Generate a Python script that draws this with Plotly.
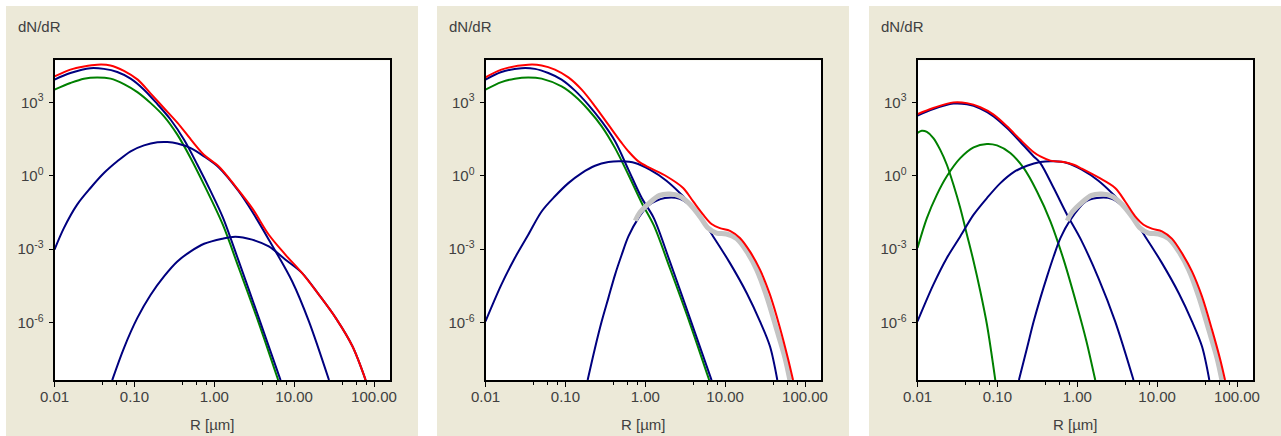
import plotly.graph_objects as go

# ---------------- data (R in µm, dN/dR) ----------------
# Panel 1
p1_red_R = [0.01, 0.0158, 0.0234, 0.0343, 0.0501, 0.0741, 0.110, 0.158, 0.234, 0.347, 0.513, 0.741, 1.14, 1.84, 2.98, 4.82, 7.80, 12.6, 20.4, 33.1, 53.7, 78.5]
p1_red_y = [1.15e4, 2.19e4, 2.95e4, 3.47e4, 3.24e4, 1.95e4, 8.5e3, 2.4e3, 589, 145, 29.5, 7.24, 2.40, 0.372, 0.0479, 3.89e-3, 5.89e-4, 1.05e-4, 1.38e-5, 1.55e-6, 1.07e-7, 4.47e-9]
p1_b1_R = [0.01, 0.0158, 0.0282, 0.0416, 0.0611, 0.0897, 0.132, 0.194, 0.285, 0.419, 0.615, 0.904, 1.28, 2.03, 3.61, 6.76]
p1_b1_y = [8.51e3, 1.58e4, 2.51e4, 2.34e4, 1.74e4, 9.33e3, 3.31e3, 851, 195, 29.5, 2.82, 0.229, 0.02, 3.16e-4, 1.55e-6, 4.47e-9]
p1_g_R = [0.01, 0.0158, 0.0233, 0.0343, 0.0504, 0.0740, 0.109, 0.160, 0.235, 0.345, 0.507, 0.746, 1.28, 2.03, 3.61, 6.31]
p1_g_y = [3.31e3, 6.17e3, 9.33e3, 1.05e4, 9.33e3, 5.62e3, 2.63e3, 933, 269, 47.9, 5.25, 0.427, 0.01, 1.70e-4, 9.55e-7, 4.47e-9]
p1_b2_R = [0.01, 0.0131, 0.0192, 0.0282, 0.0416, 0.0611, 0.0897, 0.132, 0.194, 0.259, 0.345, 0.507, 0.746, 1.14, 2.03, 2.98, 4.82, 9.46, 15.3, 27.3]
p1_b2_y = [9.55e-4, 7.24e-3, 0.0661, 0.316, 1.29, 3.89, 10.0, 17.4, 23.4, 24.0, 20.9, 13.5, 6.17, 2.19, 0.229, 0.0347, 2.45e-3, 4.79e-5, 1.12e-6, 4.47e-9]
p1_b3_R = [0.0528, 0.0740, 0.109, 0.160, 0.235, 0.345, 0.507, 0.746, 1.26, 1.84, 2.98, 4.82, 7.80, 12.6, 20.4, 33.1, 53.7, 78.5]
p1_b3_y = [4.47e-9, 9.12e-8, 1.55e-6, 1.38e-5, 7.76e-5, 3.16e-4, 8.13e-4, 1.66e-3, 2.69e-3, 3.24e-3, 2.45e-3, 1.29e-3, 3.72e-4, 1.05e-4, 1.38e-5, 1.55e-6, 1.07e-7, 4.47e-9]

# Panel 2
p2_red_R = [0.01, 0.0158, 0.0343, 0.0504, 0.0740, 0.109, 0.160, 0.235, 0.345, 0.507, 0.615, 0.820, 1.14, 1.84, 2.98, 3.98, 5.31, 6.76, 8.59, 11.5, 15.3, 20.4, 27.3, 36.4, 48.6, 61.7, 70.8]
p2_red_y = [1.05e4, 2.19e4, 3.47e4, 3.24e4, 2.19e4, 1.05e4, 3.31e3, 692, 123, 21.9, 10.0, 3.89, 2.09, 0.955, 0.316, 0.0891, 0.0257, 0.0107, 7.24e-3, 5.62e-3, 2.88e-3, 8.13e-4, 1.45e-4, 1.38e-5, 6.03e-7, 3.02e-8, 4.47e-9]
p2_b1_R = [0.01, 0.0158, 0.0282, 0.0416, 0.0611, 0.0897, 0.132, 0.194, 0.285, 0.419, 0.615, 0.904, 1.28, 2.03, 3.61, 6.76]
p2_b1_y = [8.51e3, 1.74e4, 2.51e4, 2.34e4, 1.58e4, 8.51e3, 3.02e3, 794, 166, 25.7, 1.78, 0.123, 0.0186, 3.16e-4, 1.55e-6, 4.47e-9]
p2_g_R = [0.01, 0.0158, 0.0233, 0.0343, 0.0504, 0.0897, 0.132, 0.194, 0.285, 0.419, 0.615, 0.904, 1.28, 2.03, 3.61, 6.31]
p2_g_y = [3.31e3, 6.76e3, 9.33e3, 1.05e4, 9.33e3, 4.47e3, 1.78e3, 501, 105, 13.5, 1.10, 0.0776, 9.33e-3, 1.70e-4, 9.55e-7, 4.47e-9]
p2_b2_R = [0.01, 0.0158, 0.0233, 0.0343, 0.0504, 0.0740, 0.109, 0.160, 0.235, 0.345, 0.507, 0.746, 1.14, 1.84, 2.98, 4.38, 7.08, 11.5, 18.6, 27.3, 36.4, 45.0]
p2_b2_y = [1.12e-6, 3.55e-5, 4.37e-4, 3.89e-3, 0.0347, 0.145, 0.501, 1.29, 2.57, 3.63, 3.89, 3.31, 1.78, 0.631, 0.145, 0.0347, 3.31e-3, 2.69e-4, 1.62e-5, 1.12e-6, 1.07e-7, 4.47e-9]
p2_b3_R = [0.190, 0.235, 0.285, 0.345, 0.419, 0.507, 0.615, 0.820, 1.10, 1.76, 2.70, 3.98, 5.06]
p2_b3_y = [4.47e-9, 9.12e-8, 1.12e-6, 1.0e-5, 9.12e-5, 5.89e-4, 3.31e-3, 0.0186, 0.0617, 0.123, 0.115, 0.0479, 0.0178]

# measured curve (grey), panels 2 and 3
meas_R = [0.75, 0.84, 1.10, 1.51, 2.03, 2.70, 3.61, 4.82, 6.14, 7.80, 10.4, 13.9, 18.6, 24.8, 33.1, 44.2, 56.2, 64.6]
meas_y = [0.0145, 0.0290, 0.0724, 0.158, 0.178, 0.145, 0.0692, 0.0219, 7.24e-3, 4.57e-3, 4.17e-3, 2.69e-3, 8.13e-4, 1.45e-4, 1.17e-5, 5.13e-7, 3.55e-8, 4.47e-9]

# Panel 3
p3_red_R = [0.01, 0.0158, 0.0282, 0.0416, 0.0611, 0.0897, 0.132, 0.194, 0.285, 0.345, 0.461, 0.678, 0.904, 1.14, 1.84, 2.98, 3.98, 5.31, 6.76, 8.59, 11.5, 15.3, 20.4, 27.3, 36.4, 48.6, 61.7, 70.8]
p3_red_y = [331, 589, 1000, 933, 631, 316, 105, 29.5, 9.12, 6.17, 4.17, 3.63, 2.82, 1.95, 0.851, 0.316, 0.0891, 0.0219, 0.01, 6.92e-3, 5.37e-3, 2.69e-3, 6.92e-4, 1.23e-4, 1.17e-5, 5.13e-7, 3.02e-8, 4.47e-9]
p3_b1_R = [0.01, 0.0158, 0.0282, 0.0416, 0.0611, 0.0897, 0.132, 0.194, 0.285, 0.345, 0.507, 0.746, 1.10, 1.84, 2.98, 5.06]
p3_b1_y = [288, 537, 891, 832, 562, 269, 89.1, 24.0, 6.17, 3.31, 0.316, 0.0257, 2.63e-3, 6.61e-5, 1.12e-6, 4.47e-9]
p3_g1_R = [0.01, 0.0113, 0.0131, 0.0158, 0.0192, 0.0233, 0.0282, 0.0343, 0.0416, 0.0504, 0.0611, 0.0741, 0.0942]
p3_g1_y = [56.2, 69.2, 61.7, 34.7, 11.7, 2.82, 0.427, 0.0479, 3.89e-3, 3.16e-4, 1.91e-5, 8.13e-7, 4.47e-9]
p3_g2_R = [0.01, 0.0131, 0.0175, 0.0233, 0.0343, 0.0504, 0.0740, 0.0989, 0.145, 0.213, 0.313, 0.461, 0.678, 0.995, 1.30, 1.68]
p3_g2_y = [1.12e-3, 0.0186, 0.170, 0.955, 5.25, 14.5, 20.0, 17.4, 8.51, 2.09, 0.229, 0.0138, 3.55e-4, 4.68e-6, 1.78e-7, 4.47e-9]
p3_b2_R = [0.01, 0.0158, 0.0233, 0.0343, 0.0504, 0.0740, 0.109, 0.160, 0.235, 0.345, 0.507, 0.746, 1.14, 1.84, 2.98, 4.38, 7.08, 11.5, 18.6, 27.3, 36.4, 45.0]
p3_b2_y = [1.12e-6, 3.55e-5, 4.37e-4, 3.31e-3, 0.0257, 0.123, 0.501, 1.41, 2.57, 3.63, 3.89, 3.31, 1.78, 0.631, 0.145, 0.0347, 3.31e-3, 2.69e-4, 1.62e-5, 1.12e-6, 1.07e-7, 4.47e-9]
p3_b3_R = [0.186, 0.235, 0.285, 0.345, 0.419, 0.507, 0.615, 0.820, 1.28, 1.76, 2.70, 3.98]
p3_b3_y = [4.47e-9, 9.12e-8, 1.12e-6, 1.0e-5, 7.76e-5, 5.13e-4, 2.82e-3, 0.0158, 0.0891, 0.123, 0.115, 0.0479]

x_tickvals = [0.01, 0.1, 1, 10, 100]
x_ticktext = ["0.01", "0.10", "1.00", "10.00", "100.00"]
y_tickvals = [1e-6, 1e-3, 1, 1e3]
y_ticktext = ["10<sup>-6</sup>", "10<sup>-3</sup>", "10<sup>0</sup>", "10<sup>3</sup>"]
y_title = "dN/dR"
x_title = "R [µm]"

# ---------------- styling ----------------
W, H = 1281, 436
BEIGE = "#ECE9D8"
RED, BLUE, GREEN, GRAY = "#FF0000", "#00007F", "#008000", "#C4C4C4"
TXT = "#404040"
FONT = "Liberation Sans"

panel_left = [6, 437, 869]
panel_w = 412
plot_off = 48.5
plot_w = 335.5
plot_top, plot_bot = 60.3, 380.3

minor_x = []
for d in [0.01, 0.1, 1, 10, 100]:
    for m in [4, 6, 8]:
        minor_x.append(d * m)

panels = [
    [(p1_g_R, p1_g_y, GREEN, 2), (p1_b1_R, p1_b1_y, BLUE, 2), (p1_b2_R, p1_b2_y, BLUE, 2),
     (p1_b3_R, p1_b3_y, BLUE, 2), (p1_red_R, p1_red_y, RED, 2)],
    [(p2_g_R, p2_g_y, GREEN, 2), (p2_b1_R, p2_b1_y, BLUE, 2), (p2_b2_R, p2_b2_y, BLUE, 2),
     (p2_b3_R, p2_b3_y, BLUE, 2), (meas_R, meas_y, GRAY, 5), (p2_red_R, p2_red_y, RED, 2)],
    [(p3_g1_R, p3_g1_y, GREEN, 2), (p3_g2_R, p3_g2_y, GREEN, 2), (p3_b1_R, p3_b1_y, BLUE, 2),
     (p3_b2_R, p3_b2_y, BLUE, 2), (p3_b3_R, p3_b3_y, BLUE, 2), (meas_R, meas_y, GRAY, 5),
     (p3_red_R, p3_red_y, RED, 2)],
]

fig = go.Figure()
shapes = []
annotations = []
layout_axes = {}

for i, traces in enumerate(panels):
    n = "" if i == 0 else str(i + 1)
    for R, y, c, w in traces:
        fig.add_trace(go.Scatter(
            x=R, y=y, mode="lines",
            line=dict(color=c, width=w, shape="spline", smoothing=0.9),
            xaxis="x" + n, yaxis="y" + n, showlegend=False, hoverinfo="skip"))

    pl = panel_left[i]
    x0 = (pl + plot_off) / W
    x1 = (pl + plot_off + plot_w) / W
    y0 = (H - plot_bot) / H
    y1 = (H - plot_top) / H

    shapes.append(dict(type="rect", xref="paper", yref="paper", layer="below",
                       x0=pl / W, x1=(pl + panel_w) / W, y0=0, y1=(H - 6) / H,
                       fillcolor=BEIGE, line=dict(width=0)))
    shapes.append(dict(type="rect", xref="paper", yref="paper", layer="below",
                       x0=x0, x1=x1, y0=y0, y1=y1,
                       fillcolor="white", line=dict(width=0)))

    layout_axes["xaxis" + n] = dict(
        type="log", range=[-2, 2.2], domain=[x0, x1], anchor="y" + n, automargin=False,
        tickmode="array", tickvals=x_tickvals, ticktext=x_ticktext,
        ticks="outside", ticklen=5, tickwidth=1, tickcolor="black",
        showline=True, linecolor="black", linewidth=2, mirror=True,
        showgrid=False, zeroline=False, ticklabelstandoff=-3,
        tickfont=dict(family=FONT, size=15, color=TXT),
        minor=dict(tickmode="array", tickvals=minor_x, ticks="outside", ticklen=3,
                   tickwidth=1, tickcolor="black", showgrid=False),
    )
    layout_axes["yaxis" + n] = dict(
        type="log", range=[-8.36, 4.72], domain=[y0, y1], anchor="x" + n, automargin=False,
        tickmode="array", tickvals=y_tickvals, ticktext=y_ticktext,
        ticks="outside", ticklen=4, tickwidth=1, tickcolor="black",
        showline=True, linecolor="black", linewidth=2, mirror=True,
        showgrid=False, zeroline=False, ticklabelstandoff=2,
        tickfont=dict(family=FONT, size=15, color=TXT),
    )

    annotations.append(dict(text=y_title, xref="paper", yref="paper",
                            x=(pl + 10) / W, y=(H - 26.5) / H, xanchor="left", yanchor="middle",
                            showarrow=False, font=dict(family=FONT, size=15, color=TXT)))
    annotations.append(dict(text=x_title, xref="paper", yref="paper",
                            x=(pl + panel_w / 2) / W, y=(H - 424) / H, xanchor="center", yanchor="middle",
                            showarrow=False, font=dict(family=FONT, size=15, color=TXT)))

fig.update_layout(
    width=W, height=H, margin=dict(l=0, r=0, t=0, b=0, autoexpand=False),
    paper_bgcolor="white", plot_bgcolor="rgba(0,0,0,0)",
    shapes=shapes, annotations=annotations, showlegend=False,
    **layout_axes,
)

fig.write_html("out.html", config={"displayModeBar": False},
               post_script="document.body.style.margin='0px';document.body.style.overflow='hidden';")
